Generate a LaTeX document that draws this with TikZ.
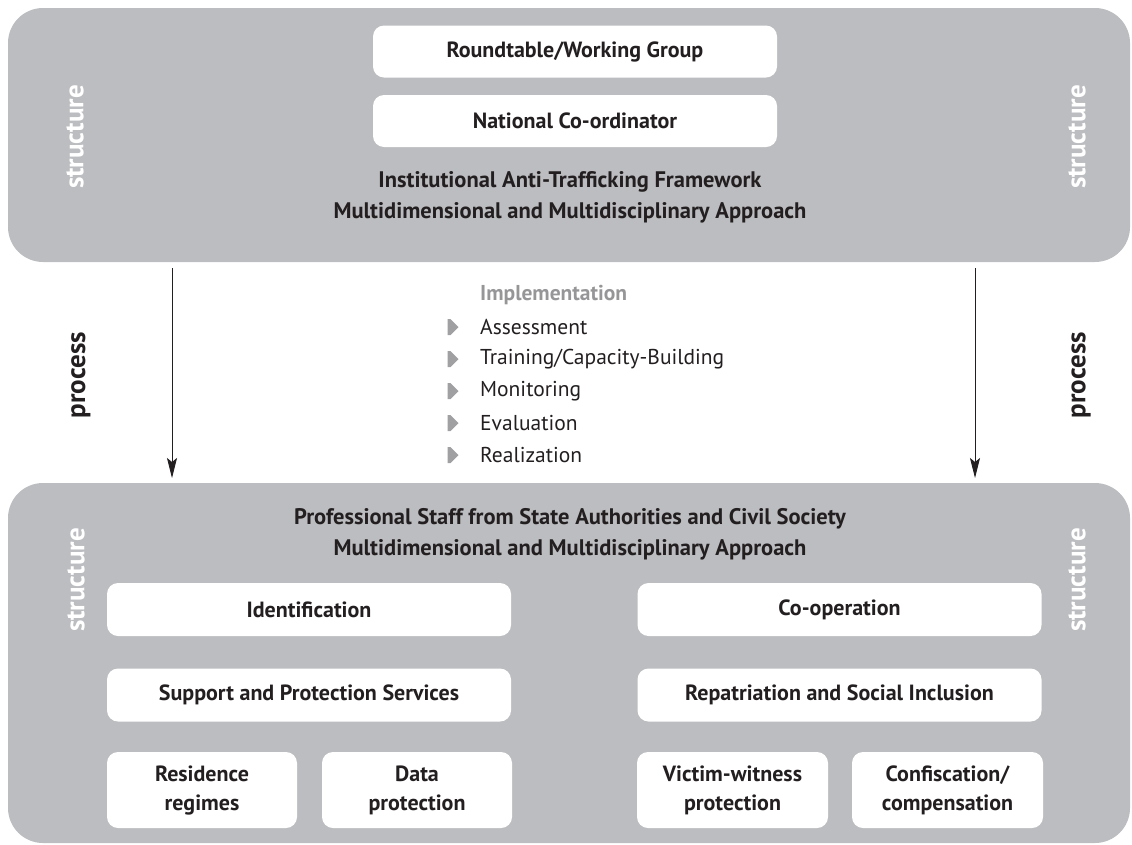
\documentclass[tikz,border=0pt]{standalone}
\usepackage{fontspec}
\setmainfont{PT Sans}
\usetikzlibrary{shapes.symbols,arrows.meta}
\definecolor{panelgray}{RGB}{188,189,192}
\definecolor{ink}{RGB}{35,31,32}
\definecolor{impgray}{RGB}{150,150,152}
\definecolor{bulgray}{RGB}{160,160,162}
\tikzset{
  panel/.style={fill=panelgray, rounded corners=35pt, inner sep=0pt, draw=none},
  wbox/.style={fill=white, rounded corners=11pt, inner sep=0pt, draw=none, align=center,
    font=\fontsize{22}{29}\selectfont\bfseries, text=ink},
  title/.style={align=center, font=\fontsize{22.5}{31}\selectfont\bfseries, text=ink},
  struct/.style={rotate=90, text=white, font=\fontsize{27}{30}\selectfont\bfseries},
  proc/.style={rotate=90, text=ink, font=\fontsize{27}{30}\selectfont\bfseries},
  item/.style={anchor=west, text=ink, font=\fontsize{21.5}{25}\selectfont, inner sep=0pt},
  bul/.style={signal, signal to=east, fill=bulgray, draw=none, inner sep=0pt,
    minimum width=11pt, minimum height=16pt},
  flow/.style={draw=ink, line width=0.9pt, -{Stealth[length=20pt,width=10pt,inset=4pt]}}
}
\begin{document}
\begin{tikzpicture}[x=1pt,y=-1pt]
\useasboundingbox (0,0) rectangle (1132,844);
% panels
\node[panel, minimum width=1122pt, minimum height=254pt] (toppanel) at (569,135) {};
\node[panel, minimum width=1122pt, minimum height=360pt] (botpanel) at (569,663) {};
% top panel content
\node[wbox, minimum width=404pt, minimum height=52pt] (round) at (575,51.5) {Roundtable/Working Group};
\node[wbox, minimum width=404pt, minimum height=52pt] (natco) at (575,121) {National Co-ordinator};
\node[title] (insttitle) at (570,197) {Institutional Anti-Trafficking Framework\\Multidimensional and Multidisciplinary Approach};
\node[struct] (stl1) at (75,137) {structure};
\node[struct] (str1) at (1077,137) {structure};
% arrows
\coordinate (la) at (172,268);
\coordinate (lb) at (172,478);
\coordinate (ra) at (975,268);
\coordinate (rb) at (975,478);
\draw[flow] (la) -- (lb);
\draw[flow] (ra) -- (rb);
\node[proc] (procl) at (81,375) {process};
\node[proc] (procr) at (1081,375) {process};
% implementation list
\node[anchor=west, text=impgray, font=\fontsize{21.5}{25}\selectfont\bfseries, inner sep=0pt] (impl) at (480,295) {Implementation};
\foreach \t/\y/\n in {{Assessment}/327/a, {Training/Capacity-Building}/359/b, {Monitoring}/391/c, {Evaluation}/423/d, {Realization}/455/e}{
  \node[bul] (bul\n) at (449,\y) {};
  \node[item] (it\n) at (480,\y) {\t};
}
% bottom panel content
\node[title] (proftitle) at (570,534) {Professional Staff from State Authorities and Civil Society\\Multidimensional and Multidisciplinary Approach};
\node[struct] (stl2) at (76,580) {structure};
\node[struct] (str2) at (1077,580) {structure};
\node[wbox, minimum width=404pt, minimum height=53pt] (ident) at (309,609.5) {Identification};
\node[wbox, minimum width=404pt, minimum height=53pt] (coop) at (839.5,609.5) {Co-operation};
\node[wbox, minimum width=404pt, minimum height=53pt] (supp) at (309,695) {Support and Protection Services};
\node[wbox, minimum width=404pt, minimum height=53pt] (repat) at (839.5,695) {Repatriation and Social Inclusion};
\node[wbox, minimum width=190pt, minimum height=76pt] (resid) at (202,790) {Residence\\regimes};
\node[wbox, minimum width=190pt, minimum height=76pt] (data) at (417,790) {Data\\protection};
\node[wbox, minimum width=191pt, minimum height=76pt] (victim) at (732.5,790) {Victim-witness\\protection};
\node[wbox, minimum width=191pt, minimum height=76pt] (confis) at (947.5,790) {Confiscation/\\compensation};
\end{tikzpicture}
\end{document}
